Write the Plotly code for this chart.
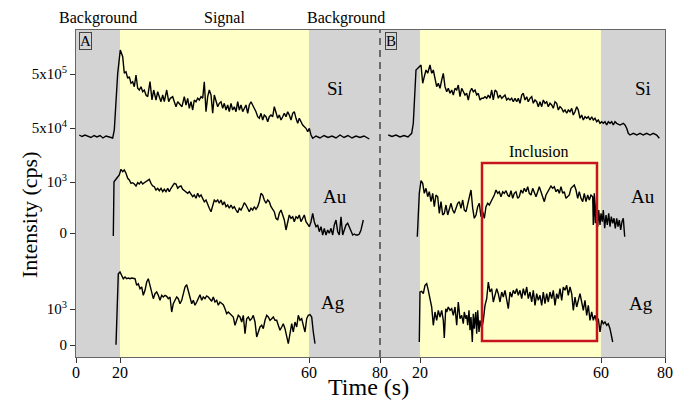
import plotly.graph_objects as go

# Horizontal axis: position along the drawn time axis (two runs, A and B, side by side)
# Vertical axis: stacked offset position of the three element traces

si_a_x = [3.3, 6, 9, 12, 15, 18, 21, 24, 27, 30, 33, 36.7, 38.3, 41.7, 44.3, 46.7, 48.3, 50, 51.7, 53.3, 55, 56.7, 58.3, 60, 61.7, 63.3, 65, 66.7, 68.3, 70, 71.7, 74, 76, 77.7, 80, 81.7, 83.3, 85, 86.7, 88.3, 90.7, 92.7, 94.3, 96.7, 98.3, 100, 101.7, 103.3, 106, 108.3, 110, 111.7, 113.3, 115, 116.7, 118.3, 120, 121.7, 123.3, 125, 126.7, 128.3, 130, 131.7, 133.3, 135, 136.7, 138.3, 140, 141.7, 143.3, 145, 146.7, 148.3, 150, 151.7, 153.3, 155, 156.7, 158.3, 160, 161.7, 163.3, 165, 166.7, 168.3, 170, 171.7, 173.3, 175, 176.7, 178.3, 180, 181.7, 183.3, 185, 186.7, 188.3, 190, 191.7, 193.3, 195, 196.7, 198.3, 200, 201.7, 203.3, 205, 206.7, 208.3, 210, 211.7, 213.3, 215, 216.7, 218.3, 220, 221.7, 223.3, 225, 226.7, 230, 231.7, 233.3, 235, 236.7, 240, 244, 248, 252, 256, 260, 264, 268, 272, 276, 280, 284, 288, 293.3]
si_a_y = [222, 220.5, 222, 221, 219.5, 221.5, 220, 221.5, 219, 221, 220, 219, 227, 283.7, 307, 300.3, 283.7, 285.3, 278.7, 280.3, 273.7, 275.3, 270.3, 282, 268.7, 267, 270.3, 265.3, 267, 262, 260.3, 275.3, 257, 267, 257, 265.3, 260.3, 255.3, 262, 255.3, 267, 255.3, 258.7, 260.3, 255.3, 250.3, 255.3, 253.7, 250.3, 260.3, 252, 258.7, 248.7, 255.3, 247, 257, 255.3, 258.7, 257, 260.3, 258.7, 275.3, 245.3, 260.3, 267, 262, 243.7, 262, 257, 250.3, 253.7, 255.3, 248.7, 253.7, 247, 252, 245.3, 253.7, 247, 250.3, 245.3, 255.3, 247, 252, 245.3, 248.7, 252, 243.7, 252, 255.3, 252, 248.7, 245.3, 240.3, 238.7, 243.7, 237, 242, 240.3, 235.3, 240.3, 242, 240.3, 250.3, 245.3, 238.7, 242, 237, 240.3, 243.7, 240.3, 245.3, 242, 237, 243.7, 245.3, 238.7, 233.7, 238.7, 235.3, 232, 228.7, 225.3, 228.7, 222, 218.7, 221, 219, 221.5, 219.5, 221, 219, 222, 219.5, 221.5, 219, 221, 219.5, 221, 218]

si_b_x = [312.3, 316, 320, 324, 328, 332, 335.7, 337.3, 340, 341.3, 343.3, 345, 346.7, 348.3, 350, 351.7, 354, 355.7, 357.3, 359, 360.7, 362.3, 364, 365.7, 367.3, 369, 370.7, 372.3, 374, 375.7, 377.3, 379, 380.7, 382.3, 384, 385.7, 387.3, 389, 390.7, 392.3, 394, 395.7, 397.3, 399, 400.7, 402.3, 404, 405.7, 407.3, 409, 410.7, 412.3, 414, 415.7, 417.3, 419, 420.7, 422.3, 424, 425.7, 427.3, 429, 430.7, 432.3, 434, 435.7, 437.3, 439, 440.7, 442.3, 444, 445.7, 447.3, 449, 450.7, 452.3, 454, 455.7, 457.3, 459, 460.7, 462.3, 464, 465.7, 467.3, 469, 470.7, 472.3, 474, 475.7, 477.3, 479, 480.7, 482.3, 484, 485.7, 487.3, 489, 490.7, 492.3, 494, 495.7, 497.3, 499, 500.7, 502.3, 504, 505.7, 507.3, 509, 510.7, 512.3, 514, 515.7, 517.3, 519, 520.7, 522.3, 524, 525.7, 527.3, 529, 530.7, 532.3, 534, 535.7, 537.3, 539, 540.7, 544, 547.3, 549, 550.7, 552.3, 554, 557.3, 560.7, 564, 567.3, 570.7, 574, 577.3, 580.7, 583.3]
si_b_y = [222, 220.5, 222, 220, 221.5, 220, 223.7, 233.7, 287, 288.7, 290.3, 292, 273.7, 280.3, 287, 283.7, 292, 283.7, 287, 278.7, 270.3, 273.7, 268.7, 277, 283.7, 270.3, 265.3, 268.7, 263.7, 267, 262, 268.7, 267, 272, 260.3, 268.7, 265.3, 262, 263.7, 257, 265.3, 268.7, 265.3, 267, 262, 263.7, 257, 258.7, 258.7, 260.3, 258.7, 262, 258.7, 267, 257, 267, 265.3, 258.7, 262, 258.7, 260.3, 262, 257, 258.7, 257, 258.7, 255.3, 258.7, 255.3, 258.7, 253.7, 262, 263.7, 257, 260.3, 255.3, 258.7, 260.3, 253.7, 257, 255.3, 250.3, 255.3, 250.3, 257, 253.7, 255.3, 250.3, 253.7, 252, 248.7, 255.3, 253.7, 247, 250.3, 248.7, 245.3, 247, 243.7, 247, 245.3, 248.7, 242, 245.3, 250.3, 247, 238.7, 242, 237, 240.3, 238.7, 240.3, 237, 240.3, 237, 238.7, 235.3, 237, 233.7, 235.3, 233.7, 235.3, 232, 235.3, 233.7, 235.3, 232, 235.3, 233.7, 232, 233.7, 232, 228.7, 223.7, 222, 223.7, 222, 223.7, 222, 223.7, 222, 223.7, 222, 218.7]

au_a_x = [37.3, 38, 40.7, 43.3, 45, 46.7, 48.3, 50, 51.7, 53.3, 55, 56.7, 58.3, 60, 61.7, 63.3, 65, 66.7, 68.3, 70, 71.7, 73.3, 75, 76.7, 78.3, 80, 81.7, 83.3, 85, 86.7, 88.3, 90, 91.7, 93.3, 95, 96.7, 98.3, 100, 101.7, 103.3, 105, 106.7, 108.3, 110, 111.7, 113.3, 115, 116.7, 118.3, 120, 121.7, 123.3, 125, 126.7, 128.3, 130, 131.7, 133.3, 135, 136.7, 138.3, 140, 141.7, 143.3, 145, 146.7, 148.3, 150, 151.7, 153.3, 155, 156.7, 158.3, 160, 161.7, 163.3, 165, 166.7, 168.3, 170, 171.7, 173.3, 175, 176.7, 178.3, 180, 181.7, 183.3, 185, 186.7, 188.3, 190, 191.7, 193.3, 195, 196.7, 198.3, 200, 201.7, 203.3, 205, 206.7, 208.3, 210, 211.7, 213.3, 215, 216.7, 218.3, 220, 221.7, 223.3, 225, 226.7, 228.3, 230, 231.7, 233.3, 235, 236.7, 238.3, 240, 241.7, 243.3, 245, 246.7, 248.3, 250, 251.7, 253.3, 255, 256.7, 258.3, 260, 261.7, 263.3, 265, 266.7, 268.3, 270, 271.7, 273.3, 275, 276.7, 278.3, 280, 281.7, 283.3, 285, 286.7, 287.3]
au_a_y = [121, 175.3, 178.7, 182, 187.7, 185.3, 187, 183.7, 178.7, 177, 173.7, 174.3, 173, 171, 174.3, 173, 175.3, 173, 174.3, 175.3, 176.3, 177.7, 173.7, 171, 170.3, 167, 168.7, 166.3, 168.7, 165.3, 167.7, 165.3, 168.7, 165.3, 168.7, 171, 173.7, 173, 168.7, 170.3, 171, 167.7, 166.3, 165.3, 163.7, 165.3, 162, 160.3, 162, 158.7, 163.7, 160.3, 162, 158.7, 155.3, 157, 152, 148.7, 145.3, 152, 157, 155.3, 157, 153.7, 157, 152, 155.3, 150.3, 152, 148.7, 152, 148.7, 150.3, 147, 144.3, 148.7, 147, 150.3, 154.3, 152, 148.7, 145.3, 148.7, 147, 150.3, 147.7, 150.3, 155.3, 163.7, 162, 157, 153.7, 157, 155.3, 150.3, 147, 145.3, 138.7, 137, 143.7, 147, 142, 137, 127, 135.3, 142, 138.7, 140.3, 135.3, 140.3, 138.7, 142, 135.3, 138.7, 142, 135.3, 132, 130.3, 135.3, 143.7, 135.3, 130.3, 132, 125.3, 130.3, 122, 128.7, 122, 127, 123.7, 128.7, 122, 132, 137, 125.3, 122, 140.3, 122, 127, 132, 133.7, 130.3, 125.3, 122, 123, 122, 122, 123, 127, 135.3, 137]

au_b_x = [341.3, 343.3, 345, 346.7, 348.3, 350, 351.7, 353.3, 355, 356.7, 358.3, 360, 361.7, 363.3, 365, 366.7, 368.3, 370, 371.7, 373.3, 375, 376.7, 378.3, 380, 381.7, 383.3, 385, 386.7, 388.3, 390, 391.7, 393.3, 395, 396.7, 398.3, 400, 401.7, 403.3, 405, 406.7, 408.3, 410, 411.7, 413.3, 415, 416.7, 418.3, 420, 421.7, 423.3, 425, 426.7, 428.3, 430, 431.7, 433.3, 435, 436.7, 438.3, 440, 441.7, 443.3, 445, 446.7, 448.3, 450, 451.7, 453.3, 455, 456.7, 458.3, 460, 461.7, 463.3, 465, 466.7, 468.3, 470, 471.7, 473.3, 475, 476.7, 478.3, 480, 481.7, 483.3, 485, 486.7, 488.3, 490, 491.7, 493.3, 495, 496.7, 498.3, 500, 501.7, 503.3, 505, 506.7, 508.3, 510, 511.7, 513.3, 515, 516.7, 517.3, 518.3, 519.3, 520.7, 521.7, 522.7, 524, 525, 526.3, 527.3, 528.7, 530, 531.3, 532.7, 534, 535.3, 536.7, 538, 539.3, 540.7, 542, 543.3, 544.7, 546, 547.3, 548.7]
au_b_y = [120.3, 163.7, 176.3, 173.7, 163.7, 168.7, 160.3, 165.3, 155.3, 163.7, 150.3, 162, 160.3, 143.7, 155.3, 142, 143.7, 152, 142, 148.7, 153.7, 147, 143.7, 148.7, 153.7, 155.3, 148.7, 157, 147, 145.3, 152, 160.3, 167, 148.7, 138.7, 142, 150.3, 153.7, 140.3, 145.3, 138.7, 150.3, 153.7, 152, 155.3, 158.7, 162, 167, 163.7, 165.3, 160.3, 165.3, 163.7, 166.3, 162, 160.3, 166.3, 158.7, 163.7, 165.3, 158.7, 160.3, 167, 163.7, 168.7, 165.3, 170.3, 163.7, 162, 168.7, 163.7, 160.3, 165.3, 170.3, 165.3, 158.7, 155.3, 162, 165.3, 168.7, 171, 168.7, 170.3, 165.3, 167.7, 163.7, 170.3, 163.7, 165.3, 158.7, 160.3, 162, 168.7, 170.3, 172, 167, 158.7, 165.3, 158.7, 155.3, 163.7, 155.3, 162, 157, 162, 160.3, 132, 163.7, 133.7, 162, 130.3, 147, 132, 143.7, 135.3, 147, 128.7, 142, 132, 143.7, 130.3, 140.3, 133.7, 138.7, 128.7, 138.7, 130.3, 137, 127, 135.3, 138.7, 120.3]

ag_a_x = [40, 42.3, 44, 45.7, 47.3, 49, 50.7, 52.3, 54, 55.7, 57.3, 59, 60.7, 62.3, 64, 65.7, 67.3, 69, 70.7, 72.3, 74, 75.7, 77.3, 79, 80.7, 82.3, 84, 85.7, 87.3, 89, 90.7, 92.3, 94, 95.7, 97.3, 99, 100.7, 102.3, 104, 105.7, 107.3, 109, 110.7, 112.3, 114, 115.7, 117.3, 119, 120.7, 122.3, 124, 125.7, 127.3, 129, 130.7, 132.3, 134, 135.7, 137.3, 139, 140.7, 142.3, 144, 145.7, 147.3, 149, 150.7, 152.3, 154, 155.7, 157.3, 159, 160.7, 162.3, 164, 165.7, 167.3, 169, 170.7, 172.3, 174, 175.7, 177.3, 179, 180.7, 182.3, 184, 185.7, 187.3, 189, 190.7, 192.3, 194, 195.7, 197.3, 199, 200.7, 202.3, 204, 205.7, 207.3, 209, 210.7, 212.3, 214, 215.7, 217.3, 219, 220.7, 222.3, 224, 225.7, 227.3, 229, 230.7, 232.3, 234, 235.7, 237.3, 239]
ag_a_y = [12.3, 83.3, 85, 81.7, 78.3, 80, 78.3, 79, 78.3, 79, 78.3, 78.3, 71.7, 73.3, 68.3, 70, 61.7, 66.7, 75, 78.3, 71.7, 63.3, 58.3, 63.3, 65, 61.7, 56.7, 61.7, 60, 61.7, 60.7, 58.3, 60, 45, 53.3, 56.7, 60, 58.3, 53.3, 56.7, 63.3, 70, 72.3, 66.7, 58.3, 53.3, 56.7, 51.7, 55, 58.3, 62.3, 56.7, 60, 58.3, 61, 60, 58.3, 55.7, 60, 55, 56.7, 51.7, 55, 53.3, 52.3, 48.3, 43.3, 45, 43.3, 41.7, 40, 31.7, 36.7, 41.7, 40, 35, 41.7, 23.3, 38.3, 40, 36.7, 38.3, 41.7, 35, 20, 25, 30, 31.7, 28.3, 36.7, 41.7, 40, 36.7, 38.3, 40, 36.7, 36.7, 31.7, 26.7, 30, 33.3, 28.3, 20, 13.3, 23.3, 33.3, 25, 35, 30, 41.7, 36.7, 38.3, 31.7, 25, 38.3, 41.7, 42.3, 40, 25, 13.3]

ag_b_x = [343.3, 344, 345.7, 347.3, 349, 350.7, 352.3, 354, 355.7, 357.3, 359, 360.7, 362.3, 364, 365.7, 367.3, 368.3, 369.7, 370.7, 372.3, 374, 375.7, 377.3, 379, 380.7, 382.3, 384, 385.7, 387.3, 388.3, 389.7, 390.7, 391.7, 393, 394, 395, 396.3, 397.3, 398.3, 399.7, 400.7, 401.7, 403, 404, 405.7, 407.3, 409, 410.7, 412.3, 414, 415.7, 417.3, 419, 420.7, 422.3, 424, 425.7, 427.3, 429, 430.7, 432.3, 434, 435.7, 437.3, 439, 440.7, 442.3, 444, 445.7, 447.3, 449, 450.7, 452.3, 454, 455.7, 457.3, 459, 460.7, 462.3, 464, 465.7, 467.3, 469, 470.7, 472.3, 474, 475.7, 477.3, 479, 480.7, 482.3, 484, 485.7, 487.3, 489, 490.7, 492.3, 494, 495.7, 497.3, 499, 500.7, 502.3, 504, 505.7, 507.3, 509, 510.7, 512.3, 514, 515.7, 517.3, 519, 520.7, 522.3, 524, 525.7, 527.3, 529, 530.7, 532.3, 534, 535.7, 536.7]
ag_b_y = [15, 65, 65.7, 63.3, 71.7, 73.3, 66.7, 58.3, 50, 31.7, 45, 36.7, 46.7, 40, 46.7, 36.7, 19, 48.3, 45, 50, 46.7, 48.3, 41.7, 50, 31.7, 55, 38.3, 41.7, 33.3, 45, 38.3, 41.7, 31.7, 46.7, 26.7, 40, 15, 43.3, 28.3, 45, 23.3, 46.7, 25, 36.7, 28.3, 36.7, 51.7, 58.3, 75, 65, 68.3, 55, 63.3, 68.3, 63.3, 55, 65, 60, 66.7, 56.7, 48.3, 65, 60, 66.7, 63.3, 68.3, 61.7, 66.7, 58.3, 68.3, 61.7, 70, 58.3, 65, 55, 66.7, 51.7, 63.3, 56.7, 61.7, 51.7, 65, 53.3, 63.3, 55, 65, 58.3, 66.7, 51.7, 63.3, 58.3, 68.3, 56.7, 70, 66.7, 71.7, 61.7, 70, 63.3, 46.7, 60, 50, 58.3, 63.3, 55, 46.7, 56.7, 41.7, 51.7, 36.7, 45, 36.7, 41.7, 35, 38.3, 25, 36.7, 33.3, 35, 31.7, 33.3, 28.3, 20, 15]

# Axis labels
x_tick_pos = [0, 44, 233, 304, 344, 525, 589]
x_tick_text = ["0", "20", "60", "80", "20", "60", "80"]
y_tick_pos = [12, 48, 124, 175, 229, 283]
y_tick_text = ["0", "10<sup>3</sup>", "0", "10<sup>3</sup>", "5x10<sup>4</sup>", "5x10<sup>5</sup>"]

# Region bands (start, end) along the axis
gray_bands = [(0, 44), (233, 304), (304, 344), (525, 589)]
yellow_bands = [(44, 233), (344, 525)]
run_split = 304
inclusion_box = (406, 521, 16, 194)

# Text labels
region_labels = [(22, "Background"), (148, "Signal"), (270, "Background")]
element_labels = [(259, 269, "Si"), (259, 161, "Au"), (257, 55, "Ag"),
                  (567, 269, "Si"), (567, 161, "Au"), (565, 54, "Ag")]

SERIF = "Liberation Serif"
fig = go.Figure()

series = [(si_a_x, si_a_y), (si_b_x, si_b_y), (au_a_x, au_a_y), (au_b_x, au_b_y), (ag_a_x, ag_a_y), (ag_b_x, ag_b_y)]
for xs, ys in series:
    fig.add_trace(go.Scatter(x=xs, y=ys, mode="lines", line=dict(color="black", width=1.4),
                             showlegend=False, hoverinfo="skip"))

shapes = []
for a, b in gray_bands:
    shapes.append(dict(type="rect", xref="x", yref="paper", x0=a, x1=b, y0=0, y1=1,
                       fillcolor="#d3d3d3", line=dict(width=0), layer="below"))
for a, b in yellow_bands:
    shapes.append(dict(type="rect", xref="x", yref="paper", x0=a, x1=b, y0=0, y1=1,
                       fillcolor="#ffffc8", line=dict(width=0), layer="below"))
shapes.append(dict(type="line", xref="x", yref="paper", x0=run_split, x1=run_split, y0=0, y1=1,
                   line=dict(color="black", width=1, dash="7px,5px")))
bx0, bx1, by0, by1 = inclusion_box
shapes.append(dict(type="rect", xref="x", yref="y", x0=bx0, x1=bx1, y0=by0, y1=by1,
                   line=dict(color="#c8141e", width=2.5)))

ann = []
def txt(x, y, s, size=16, yref="y", **kw):
    d = dict(x=x, y=y, xref="x", yref=yref, text=s, showarrow=False,
             xanchor="center", yanchor="middle",
             font=dict(family=SERIF, size=size, color="black"))
    d.update(kw)
    ann.append(d)

for xx, lab in region_labels:
    txt(xx, 1.037, lab, 16, yref="paper")
txt(9, 316, "A", 15, bordercolor="#444", borderwidth=1, borderpad=0, bgcolor="#d3d3d3")
txt(315, 316, "B", 15, bordercolor="#444", borderwidth=1, borderpad=0, bgcolor="#d3d3d3")
for xx, yy, lab in element_labels:
    txt(xx, yy, lab, 19)
txt(463, 206, "Inclusion", 16)
txt(292, -0.092, "Time (s)", 24, yref="paper")
ann.append(dict(x=-0.08, y=0.434, xref="paper", yref="paper", text="Intensity (cps)", showarrow=False,
                xanchor="center", yanchor="middle",
                textangle=-90, font=dict(family=SERIF, size=22, color="black")))

fig.update_layout(
    width=686, height=401,
    margin=dict(l=76, r=21, t=30, b=44),
    paper_bgcolor="white", plot_bgcolor="white",
    shapes=shapes, annotations=ann,
    xaxis=dict(range=[0, 589], showgrid=False, zeroline=False, tickmode="array",
               tickvals=x_tick_pos, ticktext=x_tick_text, ticks="outside", ticklen=5,
               tickcolor="#333", showline=True, linecolor="#666", linewidth=1, mirror=True,
               ticklabelstandoff=-4,
               tickfont=dict(family=SERIF, size=16, color="black")),
    yaxis=dict(range=[0, 327], showgrid=False, zeroline=False, tickmode="array",
               tickvals=y_tick_pos, ticktext=y_tick_text, ticks="outside", ticklen=5,
               tickcolor="#333", showline=True, linecolor="#666", linewidth=1, mirror=True,
               tickfont=dict(family=SERIF, size=15, color="black")),
)

fig.write_html("out.html")
